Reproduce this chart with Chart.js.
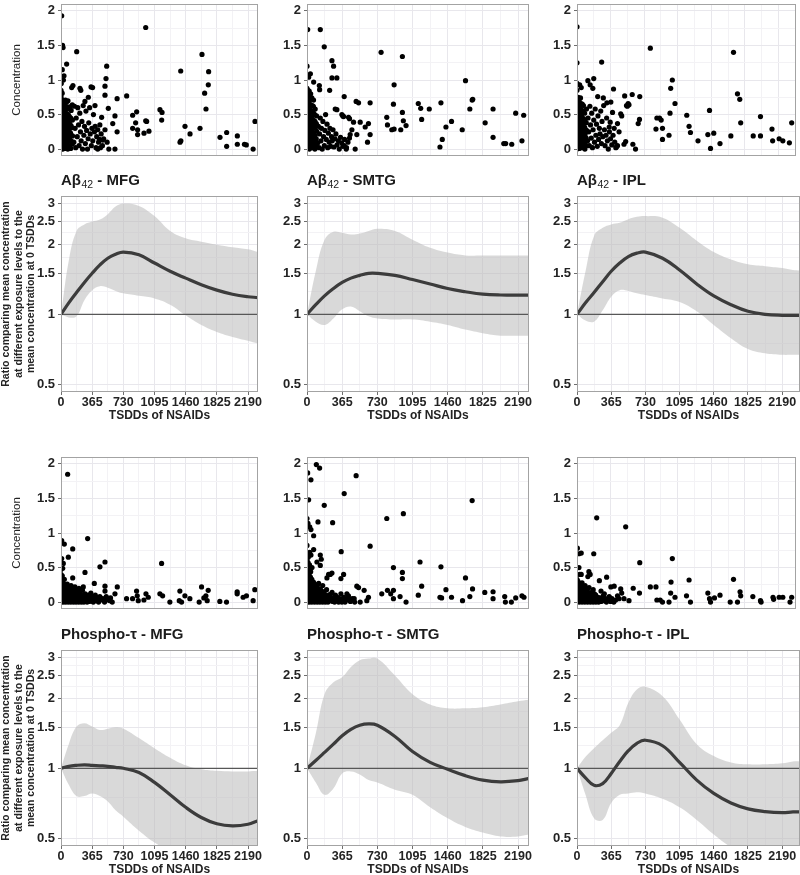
<!DOCTYPE html>
<html lang="en">
<head>
<meta charset="UTF-8">
<title>NSAIDs exposure - Aβ42 and Phospho-τ</title>
<script src="https://cdn.jsdelivr.net/npm/chart.js@4.4.1/dist/chart.umd.min.js"></script>
<style>
  body { margin: 0; background: #fff; width: 800px; height: 875px; overflow: hidden; position: relative; }
  canvas { position: absolute; }
</style>
</head>
<body>
<script>
// ---- tick labels ----
const xMajor = [0, 365, 730, 1095, 1460, 1825, 2190];
const xMinor = [182.5, 547.5, 912.5, 1277.5, 1642.5, 2007.5, 2372.5];
const concMajor = [0, 0.5, 1, 1.5, 2];
const concMinor = [0.25, 0.75, 1.25, 1.75];
const ratioMajor = [0.5, 1, 1.5, 2, 2.5, 3];
const ratioMinor = [0.75, 1.25, 1.75, 2.25, 2.75];

// ---- panel titles: [text, subscript, text] ----
const titles = [
  ['Aβ', '42', ' - MFG'], ['Aβ', '42', ' - SMTG'], ['Aβ', '42', ' - IPL'],
  ['Phospho-τ', '', ' - MFG'], ['Phospho-τ', '', ' - SMTG'], ['Phospho-τ', '', ' - IPL']
];

// ---- scatter data: [TSDDs, concentration] ----
const abMfgPts = [[8,1.93],[18,1.5],[24,1.47],[184,1.41],[992,1.76],[66,1.23],[15,1.15],[35,1.06],[28,1.0],[535,1.2],[527,1.02],[515,0.91],[515,0.78],[352,0.9],[370,0.89],[222,0.88],[232,0.85],[140,0.92],[125,0.89],[280,0.69],[320,0.75],[398,0.63],[554,0.59],[657,0.73],[769,0.77],[632,0.48],[606,0.37],[657,0.25],[632,0.0],[476,0.46],[450,0.14],[430,0.0],[462,0.02],[489,0.13],[839,0.49],[886,0.54],[874,0.38],[839,0.3],[897,0.28],[897,0.21],[972,0.23],[992,0.41],[1003,0.4],[1030,0.26],[1159,0.57],[1183,0.53],[1179,0.42],[1402,1.13],[1394,0.1],[1404,0.12],[1452,0.33],[1511,0.22],[1628,0.3],[1651,1.37],[1729,1.12],[1725,0.93],[1682,0.81],[1698,0.58],[1862,0.17],[1940,0.24],[1940,0.04],[2065,0.19],[2065,0.07],[2148,0.07],[2170,0.06],[2250,0.0],[2272,0.4],
  [0,0.02],[0,0.1],[0,0.19],[0,0.27],[0,0.36],[0,0.44],[0,0.52],[0,0.6],[0,0.68],[0,0.76],[0,0.85],[3,0.95],
  [9,0.05],[11,0.14],[8,0.23],[12,0.31],[10,0.4],[9,0.48],[13,0.57],[11,0.65],[8,0.72],[14,0.81],
  [21,0.0],[24,0.09],[20,0.18],[25,0.26],[22,0.35],[23,0.44],[20,0.53],[26,0.62],[22,0.7],
  [36,0.04],[33,0.13],[38,0.21],[34,0.3],[37,0.39],[35,0.49],[32,0.58],[39,0.66],
  [48,0.01],[52,0.1],[47,0.17],[51,0.27],[49,0.36],[53,0.45],[50,0.55],[46,0.64],[52,0.71],
  [63,0.06],[67,0.15],[64,0.24],[68,0.33],[62,0.42],[66,0.51],[69,0.61],[65,0.68],
  [80,0.0],[84,0.11],[78,0.2],[83,0.29],[81,0.4],[85,0.5],[79,0.58],[82,0.7],
  [97,0.05],[101,0.16],[95,0.27],[100,0.37],[98,0.47],[103,0.61],
  [114,0.01],[118,0.12],[112,0.23],[117,0.34],[115,0.45],[119,0.56],
  [131,0.07],[135,0.19],[129,0.31],[134,0.42],[132,0.64],
  [150,0.1],[158,0.62],[165,0.3],[172,0.02],[178,0.45],[190,0.18],[196,0.6],[205,0.35],[212,0.05],[220,0.52],[228,0.25],[236,0.12],[245,0.4],[252,0.0],[260,0.63],[268,0.2],[275,0.33],[285,0.08],[292,0.55],[300,0.27],[310,0.0],[318,0.15],[325,0.38],[335,0.6],[342,0.22],[355,0.05],[362,0.3],[372,0.12],[380,0.5],[392,0.25],[400,0.33],[410,0.02],[418,0.18],[430,0.28],[440,0.1],[455,0.35],[470,0.22],[485,0.05],[500,0.15],[515,0.28],[540,0.1],[560,0.0]];

const abSmtgPts = [[7,1.73],[138,1.73],[179,1.48],[0,1.2],[35,1.09],[17,1.04],[259,1.28],[276,1.2],[259,1.03],[310,1.03],[235,0.85],[69,0.97],[128,0.92],[131,0.86],[386,0.76],[510,0.69],[535,0.67],[655,0.67],[293,0.58],[310,0.57],[362,0.5],[372,0.48],[380,0.47],[431,0.46],[441,0.44],[483,0.39],[552,0.39],[604,0.32],[638,0.37],[655,0.21],[628,0.1],[466,0.28],[448,0.21],[441,0.16],[517,0.21],[500,0.0],[407,0.0],[386,0.05],[769,1.4],[990,1.34],[904,0.93],[897,0.65],[828,0.46],[835,0.35],[880,0.28],[904,0.29],[973,0.28],[990,0.53],[1000,0.41],[1028,0.34],[1155,0.66],[1180,0.59],[1190,0.43],[1269,0.58],[1390,0.67],[1380,0.03],[1404,0.14],[1442,0.32],[1500,0.4],[1611,0.28],[1645,0.99],[1690,0.58],[1714,0.71],[1720,0.72],[1849,0.38],[1931,0.58],[1931,0.17],[2042,0.08],[2062,0.08],[2125,0.07],[2166,0.52],[2231,0.12],[2249,0.49],
  [0,0.01],[0,0.09],[0,0.17],[0,0.25],[0,0.33],[0,0.41],[0,0.49],[0,0.57],[0,0.65],[0,0.73],[0,0.81],[0,0.88],
  [10,0.04],[12,0.13],[9,0.21],[11,0.29],[13,0.37],[10,0.45],[12,0.53],[9,0.61],[11,0.69],[13,0.77],[10,0.85],
  [24,0.0],[22,0.08],[26,0.17],[23,0.26],[25,0.34],[21,0.43],[24,0.51],[26,0.6],[22,0.68],[25,0.76],[23,0.84],
  [37,0.03],[35,0.12],[39,0.2],[36,0.29],[38,0.38],[34,0.47],[37,0.55],[39,0.64],[35,0.72],[38,0.8],
  [52,0.02],[50,0.11],[54,0.19],[51,0.28],[53,0.37],[49,0.46],[52,0.55],[55,0.63],[50,0.74],
  [66,0.06],[68,0.15],[64,0.24],[67,0.33],[65,0.42],[69,0.52],[66,0.62],[68,0.71],
  [82,0.0],[80,0.1],[84,0.2],[81,0.31],[83,0.4],[79,0.5],[85,0.58],
  [98,0.04],[96,0.15],[100,0.26],[97,0.37],[99,0.48],
  [112,0.09],[118,0.33],[125,0.02],[130,0.22],[138,0.45],[145,0.12],[150,0.3],[158,0.0],[165,0.4],[172,0.18],[180,0.05],[186,0.27],[193,0.5],[200,0.14],[208,0.36],[215,0.02],[222,0.23],[230,0.1],[238,0.3],[246,0.04],[255,0.18],[262,0.12],[270,0.28],[280,0.03],[290,0.15],[300,0.22],[312,0.06],[325,0.12],[335,0.0],[348,0.17],[360,0.09],[372,0.04],[390,0.14],[410,0.02],[425,0.1]];

const abIplPts = [[0,1.77],[0,1.25],[268,1.26],[118,0.99],[182,1.02],[143,0.93],[172,0.88],[29,0.93],[46,0.89],[225,0.76],[286,0.74],[325,0.67],[397,0.87],[368,0.68],[518,0.77],[600,0.79],[682,0.76],[547,0.62],[556,0.66],[565,0.64],[538,0.63],[475,0.51],[486,0.48],[386,0.53],[361,0.39],[440,0.37],[350,0.32],[404,0.3],[457,0.25],[529,0.11],[511,0.07],[422,0.02],[440,0.05],[607,0.07],[636,0.0],[665,0.37],[679,0.43],[797,1.46],[858,0.29],[868,0.45],[897,0.45],[915,0.42],[929,0.3],[929,0.14],[1000,0.2],[1011,0.52],[1018,0.88],[1036,1.0],[1065,0.66],[1193,0.49],[1218,0.33],[1233,0.24],[1315,0.12],[1422,0.21],[1440,0.56],[1451,0.01],[1486,0.23],[1554,0.08],[1672,0.19],[1701,1.4],[1744,0.8],[1769,0.72],[1779,0.38],[1915,0.19],[1994,0.19],[1994,0.47],[2119,0.29],[2126,0.12],[2197,0.15],[2237,0.12],[2308,0.09],[2333,0.38],
  [0,0.0],[0,0.08],[0,0.16],[0,0.24],[0,0.32],[0,0.4],[0,0.48],[0,0.56],[0,0.64],[0,0.72],[0,0.85],[0,0.95],
  [11,0.03],[9,0.12],[13,0.2],[10,0.28],[12,0.36],[8,0.44],[11,0.52],[13,0.6],[9,0.68],[12,0.75],
  [25,0.01],[23,0.1],[27,0.18],[24,0.27],[26,0.35],[22,0.43],[25,0.52],[27,0.61],[23,0.69],
  [39,0.05],[37,0.14],[41,0.22],[38,0.31],[40,0.4],[36,0.49],[39,0.57],[42,0.66],[38,0.74],
  [54,0.02],[52,0.11],[56,0.2],[53,0.29],[55,0.38],[51,0.47],[54,0.56],[57,0.65],
  [70,0.07],[68,0.16],[72,0.25],[69,0.34],[71,0.44],[67,0.54],[70,0.63],
  [86,0.0],[84,0.1],[88,0.21],[85,0.31],[87,0.41],[83,0.52],
  [102,0.05],[100,0.16],[104,0.27],[101,0.38],[103,0.58],
  [115,0.12],[120,0.45],[128,0.25],[134,0.05],[140,0.62],[147,0.35],[155,0.16],[160,0.52],[168,0.02],[175,0.28],[182,0.42],[190,0.1],[198,0.58],[205,0.2],[212,0.36],[220,0.04],[228,0.48],[235,0.14],[243,0.3],[250,0.22],[258,0.55],[265,0.08],[272,0.4],[280,0.18],[290,0.63],[298,0.28],[305,0.05],[315,0.2],[322,0.45],[330,0.12],[340,0.0],[352,0.25],[365,0.15],[378,0.06],[392,0.2],[410,0.1],[428,0.03]];

const phMfgPts = [[78,1.85],[8,0.89],[39,0.84],[137,0.77],[86,0.65],[312,0.92],[27,0.56],[20,0.49],[8,0.63],[137,0.35],[281,0.43],[456,0.51],[515,0.58],[1178,0.56],[390,0.27],[261,0.22],[515,0.23],[515,0.16],[659,0.22],[632,0.12],[573,0.02],[534,0.05],[768,0.05],[838,0.05],[885,0.16],[893,0.09],[905,0.02],[971,0.03],[995,0.12],[1022,0.07],[1158,0.12],[1190,0.09],[1275,0.0],[1392,0.16],[1385,0.02],[1412,0.0],[1451,0.09],[1509,0.05],[1618,0.0],[1646,0.22],[1697,0.09],[1724,0.17],[1712,0.02],[1673,0.06],[1860,0.01],[1938,0.0],[2063,0.15],[2063,0.12],[2133,0.07],[2172,0.09],[2250,0.02],[2270,0.18],
  [0,0.0],[0,0.05],[0,0.1],[0,0.15],[0,0.2],[0,0.26],[0,0.32],[0,0.4],[0,0.47],
  [12,0.02],[10,0.07],[14,0.12],[11,0.17],[13,0.23],[12,0.3],[15,0.38],
  [26,0.0],[28,0.05],[24,0.1],[27,0.15],[25,0.21],[29,0.27],
  [40,0.02],[42,0.07],[38,0.12],[41,0.17],[43,0.24],[39,0.33],
  [55,0.0],[57,0.05],[53,0.1],[56,0.15],[58,0.21],
  [70,0.03],[72,0.08],[68,0.13],[71,0.19],[73,0.26],
  [85,0.0],[87,0.05],[83,0.1],[86,0.16],[88,0.22],
  [100,0.02],[102,0.07],[98,0.12],[101,0.18],
  [115,0.0],[117,0.05],[113,0.1],[116,0.15],[118,0.24],
  [130,0.02],[132,0.07],[128,0.12],[131,0.2],
  [146,0.0],[148,0.05],[144,0.1],[147,0.16],
  [160,0.02],[162,0.08],[158,0.13],[163,0.22],
  [176,0.0],[178,0.05],[174,0.11],[179,0.18],
  [192,0.03],[194,0.08],[190,0.14],
  [207,0.0],[209,0.06],[205,0.12],[210,0.2],
  [222,0.02],[224,0.08],[220,0.15],
  [238,0.0],[240,0.05],[236,0.1],
  [253,0.03],[255,0.09],[251,0.17],
  [268,0.0],[275,0.06],[283,0.12],[290,0.02],[298,0.08],[306,0.0],[314,0.04],[322,0.1],[330,0.01],[340,0.06],[350,0.13],[358,0.02],[368,0.08],[378,0.0],[390,0.04],[402,0.1],[412,0.02],[425,0.06],[440,0.0],[455,0.08],[470,0.03],[490,0.05],[510,0.0],[530,0.08],[555,0.03],[580,0.06],[600,0.0]];

const phSmtgPts = [[7,1.87],[97,1.99],[131,1.94],[41,1.77],[17,1.48],[510,1.83],[386,1.57],[179,1.4],[0,1.21],[10,1.14],[28,1.09],[41,1.05],[114,1.16],[266,1.15],[69,0.96],[0,0.82],[655,0.81],[355,0.73],[28,0.72],[41,0.68],[69,0.76],[138,0.68],[148,0.62],[103,0.58],[138,0.53],[828,1.21],[1000,1.28],[897,0.5],[990,0.43],[990,0.34],[1173,0.58],[1190,0.23],[1390,0.51],[1380,0.07],[1397,0.06],[1442,0.18],[1500,0.07],[1614,0.02],[1645,0.35],[1690,0.08],[1714,1.47],[1718,0.19],[1845,0.14],[1931,0.15],[1931,0.05],[2052,0.08],[2059,0.0],[2121,0.0],[2166,0.06],[2231,0.09],[2252,0.07],[776,0.12],[835,0.17],[869,0.12],[897,0.05],[897,0.17],[966,0.08],[1028,0.0],[1155,0.1],[380,0.4],[352,0.34],[259,0.42],[241,0.4],[207,0.35],[224,0.4],[517,0.23],[535,0.21],[593,0.17],[638,0.07],[621,0.02],[552,0.0],[490,0.05],[466,0.03],[362,0.0],[414,0.12],[431,0.03],
  [0,0.0],[0,0.06],[0,0.12],[0,0.18],[0,0.24],[0,0.3],[0,0.37],[0,0.44],[0,0.52],[0,0.6],[0,0.68],
  [10,0.02],[12,0.08],[9,0.14],[11,0.2],[13,0.26],[10,0.33],[12,0.41],[9,0.49],[11,0.57],[13,0.65],
  [23,0.0],[25,0.05],[22,0.11],[24,0.17],[26,0.23],[23,0.3],[25,0.38],[22,0.46],[26,0.54],
  [36,0.03],[38,0.09],[35,0.15],[37,0.21],[39,0.28],[36,0.36],[38,0.44],
  [50,0.0],[52,0.06],[49,0.12],[51,0.18],[53,0.25],[50,0.33],[52,0.5],
  [64,0.02],[66,0.08],[63,0.14],[65,0.21],[67,0.29],
  [78,0.0],[80,0.05],[77,0.11],[79,0.18],[81,0.26],
  [92,0.03],[94,0.09],[91,0.15],[93,0.23],
  [106,0.0],[108,0.06],[105,0.13],[107,0.21],
  [120,0.02],[122,0.08],[119,0.15],[121,0.27],
  [134,0.0],[136,0.05],[133,0.11],[135,0.19],
  [148,0.03],[150,0.09],[147,0.17],
  [162,0.0],[164,0.06],[161,0.12],[163,0.24],
  [176,0.02],[178,0.08],[175,0.15],
  [190,0.0],[192,0.05],[189,0.11],
  [204,0.03],[206,0.09],[203,0.18],
  [218,0.0],[226,0.05],[234,0.11],[242,0.02],[250,0.07],[260,0.14],[268,0.01],[276,0.06],[286,0.0],[295,0.1],[305,0.03],[316,0.07],[328,0.0],[340,0.05],[352,0.12],[365,0.02],[380,0.07],[395,0.0],[410,0.04],[430,0.09],[450,0.01],[470,0.05],[495,0.0]];

const phIplPts = [[214,1.22],[529,1.09],[4,0.78],[21,0.7],[46,0.71],[182,0.7],[682,0.57],[1036,0.63],[21,0.5],[29,0.4],[46,0.4],[129,0.44],[143,0.4],[118,0.37],[322,0.36],[243,0.31],[368,0.22],[404,0.23],[797,0.22],[858,0.22],[1022,0.29],[1218,0.32],[1701,0.33],[475,0.19],[486,0.13],[611,0.2],[679,0.13],[868,0.03],[904,0.03],[929,0.0],[1018,0.13],[1065,0.07],[1000,0.0],[1190,0.09],[1233,0.0],[1422,0.13],[1440,0.05],[1451,0.0],[1494,0.06],[1554,0.1],[1665,0.0],[1744,0.0],[1772,0.15],[1779,0.09],[1911,0.08],[1994,0.02],[2001,0.0],[2130,0.07],[2137,0.04],[2197,0.07],[2237,0.07],[2315,0.0],[2333,0.07],[511,0.05],[565,0.02],[440,0.09],[457,0.05],[297,0.12],[350,0.07],[386,0.02],[261,0.16],[225,0.07],
  [0,0.0],[0,0.05],[0,0.1],[0,0.15],[0,0.2],[0,0.26],[0,0.33],
  [11,0.02],[13,0.07],[10,0.12],[12,0.18],[14,0.24],[11,0.3],
  [25,0.0],[27,0.04],[24,0.09],[26,0.14],[28,0.2],[25,0.27],
  [40,0.02],[42,0.07],[39,0.12],[41,0.17],[43,0.23],
  [55,0.0],[57,0.05],[54,0.1],[56,0.15],[58,0.21],[55,0.28],
  [70,0.02],[72,0.07],[69,0.12],[71,0.18],
  [85,0.0],[87,0.05],[84,0.1],[86,0.16],[88,0.24],
  [100,0.02],[102,0.07],[99,0.12],[101,0.19],
  [115,0.0],[117,0.05],[114,0.1],[116,0.15],
  [130,0.02],[132,0.07],[129,0.13],[131,0.21],
  [145,0.0],[147,0.05],[144,0.1],
  [160,0.02],[162,0.07],[159,0.14],
  [175,0.0],[177,0.05],[174,0.1],[176,0.18],
  [190,0.02],[192,0.07],[189,0.12],
  [205,0.0],[207,0.05],[204,0.1],
  [220,0.02],[222,0.07],
  [235,0.0],[237,0.04],
  [250,0.06],[262,0.01],[272,0.04],[285,0.09],[295,0.02],[308,0.05],[320,0.0],[335,0.03],[350,0.08],[365,0.01],[380,0.05],[400,0.0],[420,0.03]];

// ---- ratio curves (mean and band), read at these TSDDs ----
const tsdd = [0, 91, 182, 274, 365, 456, 548, 639, 730, 913, 1095, 1278, 1460, 1643, 1825, 2008, 2190, 2305, 2400];

const abMfgMean = [1.00,1.12,1.24,1.37,1.50,1.63,1.74,1.81,1.85,1.80,1.66,1.53,1.43,1.34,1.27,1.22,1.19,1.18,1.17];
const abMfgHi   = [1.00,1.70,2.28,2.43,2.50,2.55,2.69,2.90,2.99,2.92,2.64,2.28,2.12,2.05,1.99,1.94,1.90,1.85,1.83];
const abMfgLo   = [1.00,0.97,0.98,1.15,1.27,1.32,1.30,1.26,1.23,1.20,1.17,1.10,0.99,0.90,0.84,0.80,0.77,0.75,0.74];

const abSmtgMean = [1.00,1.10,1.20,1.29,1.37,1.43,1.47,1.50,1.50,1.47,1.41,1.35,1.29,1.25,1.22,1.21,1.21,1.21,1.21];
const abSmtgHi   = [1.00,1.53,2.09,2.26,2.24,2.20,2.22,2.28,2.33,2.28,2.09,1.93,1.84,1.79,1.79,1.79,1.79,1.79,1.79];
const abSmtgLo   = [1.00,0.93,0.90,0.96,1.05,1.08,1.03,0.98,0.96,0.95,0.95,0.93,0.90,0.86,0.83,0.81,0.81,0.81,0.81];

const abIplMean = [1.00,1.12,1.24,1.38,1.53,1.66,1.77,1.83,1.85,1.74,1.55,1.35,1.20,1.10,1.03,1.00,0.99,0.99,0.99];
const abIplHi   = [1.00,1.53,2.17,2.35,2.43,2.47,2.56,2.62,2.64,2.60,2.35,2.07,1.85,1.72,1.64,1.61,1.58,1.55,1.54];
const abIplLo   = [1.00,0.94,0.93,1.04,1.19,1.27,1.26,1.23,1.21,1.17,1.13,1.03,0.90,0.79,0.71,0.68,0.67,0.67,0.67];

const phMfgMean = [1.00,1.02,1.03,1.035,1.03,1.025,1.02,1.01,1.00,0.96,0.87,0.77,0.68,0.615,0.578,0.566,0.575,0.595,0.61];
const phMfgHi   = [1.00,1.27,1.51,1.56,1.51,1.46,1.48,1.50,1.48,1.35,1.22,1.11,1.03,0.99,0.975,0.97,0.97,0.975,0.98];
const phMfgLo   = [1.00,0.85,0.76,0.76,0.78,0.76,0.72,0.66,0.62,0.54,0.48,0.44,0.42,0.42,0.42,0.42,0.42,0.42,0.42];

const phSmtgMean = [1.00,1.08,1.17,1.27,1.38,1.47,1.53,1.55,1.53,1.37,1.18,1.06,0.99,0.93,0.89,0.875,0.885,0.905,0.92];
const phSmtgHi   = [1.00,1.41,2.08,2.34,2.46,2.72,2.91,2.96,2.96,2.50,2.08,1.88,1.81,1.81,1.83,1.88,1.94,1.97,1.98];
const phSmtgLo   = [1.00,0.87,0.77,0.82,0.95,0.97,0.94,0.89,0.87,0.81,0.77,0.68,0.61,0.56,0.53,0.51,0.51,0.52,0.52];

const phIplMean = [1.00,0.91,0.845,0.86,0.95,1.07,1.19,1.28,1.32,1.25,1.06,0.89,0.78,0.71,0.67,0.652,0.645,0.65,0.65];
const phIplHi   = [1.00,1.12,1.22,1.32,1.42,1.53,1.91,2.18,2.24,2.04,1.62,1.27,1.13,1.06,1.04,1.04,1.05,1.07,1.07];
const phIplLo   = [1.00,0.77,0.61,0.60,0.71,0.77,0.78,0.79,0.78,0.74,0.68,0.60,0.52,0.46,0.43,0.42,0.42,0.42,0.42];

// ---- layout ----
const family = '"Liberation Sans", Arial, Helvetica, sans-serif';
const ink = '#232323';
const cols = [
  { left: 0,   axisW: 61, w: 264, padR: 6, xMax: 2307 },
  { left: 270, axisW: 37, w: 265, padR: 6, xMax: 2304 },
  { left: 540, axisW: 37, w: 260, padR: 0, xMax: 2380 }
];
const concTitle = 'Concentration';
const ratioTitle = ['Ratio comparing mean concentration', 'at different exposure levels to the', 'mean concentration at 0 TSDDs'];

function isIn(list, v) { return list.some(m => Math.abs(m - v) < 1e-6); }

function makeCanvas(left, top, w, h) {
  const c = document.createElement('canvas');
  c.width = w; c.height = h;
  c.style.left = left + 'px';
  c.style.top = top + 'px';
  document.body.appendChild(c);
  return c;
}

// grey box around the panel
const frame = {
  id: 'frame',
  afterDraw(chart) {
    const { ctx, chartArea: a } = chart;
    ctx.save();
    ctx.strokeStyle = '#a3a3a3';
    ctx.lineWidth = 1;
    ctx.strokeRect(Math.round(a.left) + 0.5, Math.round(a.top) + 0.5, Math.round(a.right - a.left) - 1, Math.round(a.bottom - a.top) - 1);
    ctx.restore();
  }
};

// panel title with a real subscript ("Aβ" + "42")
const panelTitle = {
  id: 'panelTitle',
  afterDraw(chart, args, opts) {
    const parts = opts.parts;
    if (!parts) return;
    const ctx = chart.ctx;
    let x = chart.chartArea.left;
    const y = 9;
    ctx.save();
    ctx.fillStyle = '#1c1c1c';
    ctx.textBaseline = 'middle';
    ctx.textAlign = 'left';
    ctx.font = 'bold 15px ' + family;
    ctx.fillText(parts[0], x, y);
    x += ctx.measureText(parts[0]).width;
    if (parts[1]) {
      ctx.font = '10.5px ' + family;
      ctx.fillText(parts[1], x + 0.5, y + 4);
      x += ctx.measureText(parts[1]).width + 0.5;
    }
    ctx.font = 'bold 15px ' + family;
    ctx.fillText(parts[2], x, y);
    ctx.restore();
  }
};

function gridOpts(major, ticks) {
  return {
    color: c => (c.tick && isIn(major, c.tick.value)) ? '#e8e7ec' : '#f3f2f5',
    lineWidth: 1,
    drawTicks: ticks,
    tickLength: 3,
    tickWidth: 1,
    tickColor: c => (c.tick && isIn(major, c.tick.value)) ? '#6e6e6e' : 'rgba(0,0,0,0)'
  };
}

function xScale(xMax, labels) {
  return {
    type: 'linear', min: 0, max: xMax,
    afterBuildTicks: s => { s.ticks = xMajor.concat(xMinor).filter(v => v <= xMax).sort((a, b) => a - b).map(v => ({ value: v })); },
    afterFit: s => { s.height = labels ? 31 : 0; s.paddingLeft = 0; s.paddingRight = 0; },
    grid: gridOpts(xMajor, labels),
    border: { display: false },
    ticks: { display: labels, autoSkip: false, maxRotation: 0, padding: 0, color: ink,
             font: { family, size: 12.5, weight: 'bold' },
             callback: v => isIn(xMajor, v) ? String(v) : '' },
    title: { display: labels, text: 'TSDDs of NSAIDs', color: ink, padding: 0,
             font: { family, size: 12, weight: 'bold' } }
  };
}

function yScale(kind, axisW, withTitle) {
  const conc = kind === 'conc';
  const major = conc ? concMajor : ratioMajor;
  const minor = conc ? concMinor : ratioMinor;
  return {
    type: conc ? 'linear' : 'logarithmic',
    min: conc ? -0.1 : 0.464,
    max: conc ? 2.1 : 3.22,
    afterBuildTicks: s => { s.ticks = major.concat(minor).sort((a, b) => a - b).map(v => ({ value: v })); },
    afterFit: s => { s.width = axisW; s.paddingTop = 0; s.paddingBottom = 0; },
    grid: gridOpts(major, true),
    border: { display: false },
    ticks: { autoSkip: false, padding: 3, color: ink, font: { family, size: 13, weight: 'bold' },
             callback: v => isIn(major, v) ? String(v) : '' },
    title: conc
      ? { display: withTitle, text: concTitle, color: ink, padding: { top: 10, bottom: 0 }, font: { family, size: 11.5 } }
      : { display: withTitle, text: ratioTitle, color: ink, padding: { top: 0, bottom: 0 }, font: { family, size: 10.5, weight: 'bold', lineHeight: 1.19 } }
  };
}

function scatterPanel(col, top, pts) {
  const c = cols[col];
  new Chart(makeCanvas(c.left, top, c.w, 160), {
    type: 'scatter',
    data: { datasets: [{ data: pts.map(p => ({ x: p[0], y: p[1] })), pointRadius: 2.6, pointBorderWidth: 0, pointBackgroundColor: '#000' }] },
    options: {
      responsive: false, animation: false,
      layout: { padding: { right: c.padR } },
      plugins: { legend: { display: false }, tooltip: { enabled: false } },
      scales: { x: xScale(c.xMax, false), y: yScale('conc', c.axisW, col === 0) }
    },
    plugins: [frame]
  });
}

function curvePanel(col, top, title, mean, hi, lo) {
  const c = cols[col];
  const line = arr => tsdd.map((x, i) => ({ x: x, y: arr[i] }));
  new Chart(makeCanvas(c.left, top, c.w, 251), {
    type: 'line',
    data: { datasets: [
      { data: line(mean), borderColor: '#3c3c3c', borderWidth: 3.2, pointRadius: 0, tension: 0.4, fill: false },
      { data: [{ x: 0, y: 1 }, { x: 2400, y: 1 }], borderColor: '#575757', borderWidth: 1.3, pointRadius: 0, fill: false },
      { data: line(hi), borderColor: 'rgba(0,0,0,0)', borderWidth: 0, pointRadius: 0, tension: 0.4, fill: '+1', backgroundColor: 'rgba(185,185,185,0.55)' },
      { data: line(lo), borderColor: 'rgba(0,0,0,0)', borderWidth: 0, pointRadius: 0, tension: 0.4, fill: false }
    ] },
    options: {
      responsive: false, animation: false,
      layout: { padding: { top: 24, right: c.padR } },
      plugins: {
        legend: { display: false }, tooltip: { enabled: false },
        panelTitle: { parts: title }
      },
      scales: { x: xScale(c.xMax, true), y: yScale('ratio', c.axisW, col === 0) }
    },
    plugins: [frame, panelTitle]
  });
}

scatterPanel(0, 0, abMfgPts);
scatterPanel(1, 0, abSmtgPts);
scatterPanel(2, 0, abIplPts);
curvePanel(0, 172, titles[0], abMfgMean, abMfgHi, abMfgLo);
curvePanel(1, 172, titles[1], abSmtgMean, abSmtgHi, abSmtgLo);
curvePanel(2, 172, titles[2], abIplMean, abIplHi, abIplLo);

scatterPanel(0, 453, phMfgPts);
scatterPanel(1, 453, phSmtgPts);
scatterPanel(2, 453, phIplPts);
curvePanel(0, 626, titles[3], phMfgMean, phMfgHi, phMfgLo);
curvePanel(1, 626, titles[4], phSmtgMean, phSmtgHi, phSmtgLo);
curvePanel(2, 626, titles[5], phIplMean, phIplHi, phIplLo);
</script>
</body>
</html>
